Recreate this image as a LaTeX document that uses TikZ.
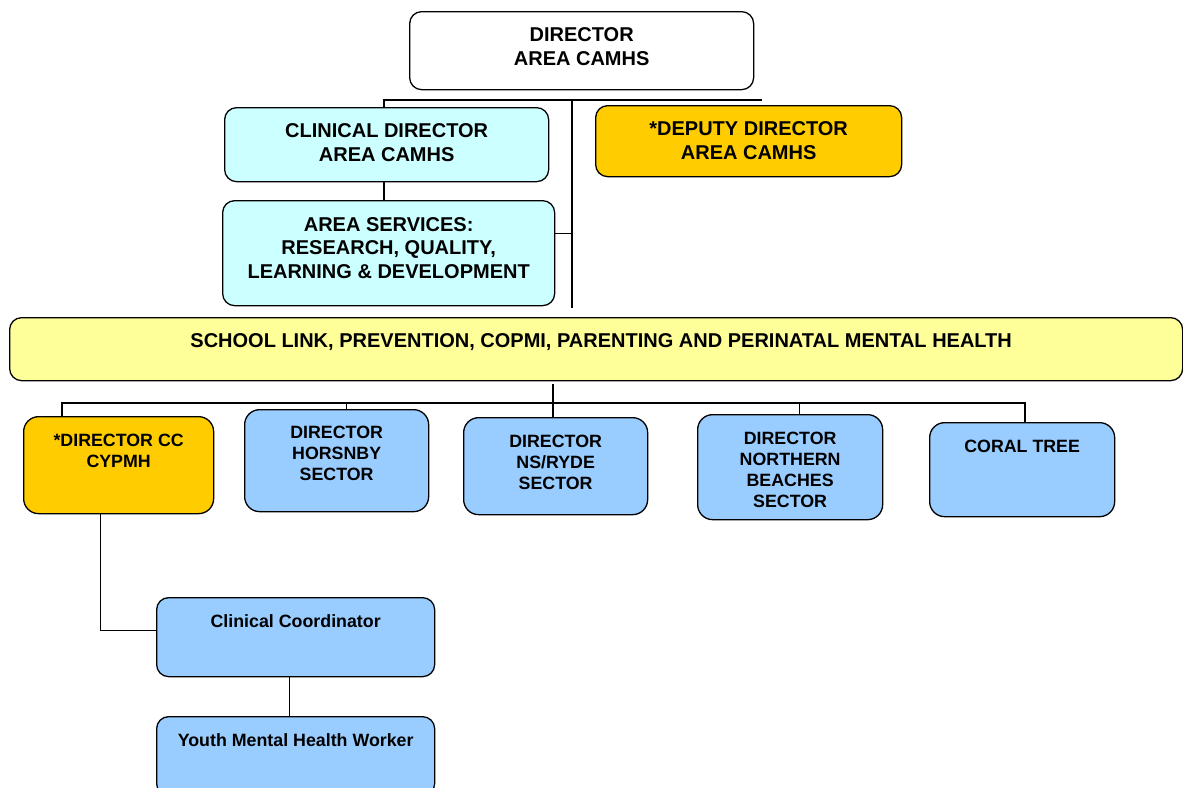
\documentclass[tikz,border=0pt]{standalone}
\usepackage{fontspec}
\setmainfont{Liberation Sans}
\usetikzlibrary{positioning}
\definecolor{paleCyan}{HTML}{CCFFFF}
\definecolor{gold}{HTML}{FFCC00}
\definecolor{paleYellow}{HTML}{FFFF99}
\definecolor{skyBlue}{HTML}{99CCFF}
\tikzset{
	box/.style = {draw, line width=1.3pt, rounded corners=12pt, anchor=north west, inner sep=0pt},
	big/.style = {font=\fontsize{20}{23.5}\selectfont\bfseries, align=center, inner sep=0pt},
	small/.style = {font=\fontsize{17.8}{21}\selectfont\bfseries, align=center, inner sep=0pt},
	conn/.style = {line width=1.2pt},
}
\begin{document}
\begin{tikzpicture}[x=1pt, y=-1pt]
	\useasboundingbox (0,0) rectangle (1183,787);
	% top of the chart
	\node[box, fill=white, minimum width=344pt, minimum height=78pt] (dir) at (409,11) {};
	\node[box, fill=paleCyan, minimum width=324pt, minimum height=74pt] (clin) at (224,107) {};
	\node[box, fill=paleCyan, minimum width=332pt, minimum height=105pt] (area) at (222,200) {};
	\node[box, fill=gold, minimum width=306pt, minimum height=71pt] (dep) at (595,105) {};
	\node[box, fill=paleYellow, minimum width=1173pt, minimum height=63pt] (school) at (9,317) {};
	\node[big, below=16.5pt of dir.north] {DIRECTOR\\ AREA CAMHS};
	\node[big, below=16.5pt of clin.north] {CLINICAL DIRECTOR\\ AREA CAMHS};
	\node[big, below=17pt of area.north] {AREA SERVICES:\\ RESEARCH, QUALITY,\\ LEARNING \& DEVELOPMENT};
	\node[big, below=16.5pt of dep.north] {*DEPUTY DIRECTOR\\ AREA CAMHS};
	\node[big, below=16.5pt of school.north, xshift=5pt] {SCHOOL LINK, PREVENTION, COPMI, PARENTING AND PERINATAL MENTAL HEALTH};
	% sectors
	\node[box, fill=gold, minimum width=190pt, minimum height=97pt, rounded corners=15pt] (cc) at (23,416) {};
	\node[box, fill=skyBlue, minimum width=184pt, minimum height=102pt, rounded corners=15pt] (hor) at (244,409) {};
	\node[box, fill=skyBlue, minimum width=184pt, minimum height=97pt, rounded corners=15pt] (ns) at (463,417) {};
	\node[box, fill=skyBlue, minimum width=185pt, minimum height=105pt, rounded corners=15pt] (nb) at (697,414) {};
	\node[box, fill=skyBlue, minimum width=185pt, minimum height=94pt, rounded corners=15pt] (coral) at (929,422) {};
	\node[small, below=17.5pt of cc.north] {*DIRECTOR CC\\ CYPMH};
	\node[small, below=17pt of hor.north] {DIRECTOR\\ HORSNBY\\ SECTOR};
	\node[small, below=17.5pt of ns.north] {DIRECTOR\\ NS/RYDE\\ SECTOR};
	\node[small, below=17.5pt of nb.north] {DIRECTOR\\ NORTHERN\\ BEACHES\\ SECTOR};
	\node[small, below=18pt of coral.north] {CORAL TREE};
	% youth team
	\node[box, fill=skyBlue, minimum width=278pt, minimum height=79pt] (coord) at (156,597) {};
	\node[box, fill=skyBlue, minimum width=278pt, minimum height=79pt] (yw) at (156,716) {};
	\node[small, below=17pt of coord.north] {Clinical Coordinator};
	\node[small, below=17pt of yw.north] {Youth Mental Health Worker};
	% lines
	\coordinate (topL) at (384,100);
	\coordinate (topR) at (762,100);
	\coordinate (spineT) at (572,100);
	\coordinate (spineB) at (572,308);
	\coordinate (hub) at (553,384);
	\coordinate (busL) at (62,403);
	\coordinate (busR) at (1025,403);
	\draw[conn] (clin.north -| topL) -- (topL) -- (topR);
	\draw[conn] (clin.south -| topL) -- (area.north -| topL);
	\draw[conn] (spineT) -- (spineB);
	\draw[conn] ([yshift=19.5pt]area.east) -- ([yshift=19.5pt]area.east -| spineT);
	\draw[conn] (hub) -- (hub |- ns.north);
	\draw[conn] (busL |- cc.north) -- (busL) -- (busR) -- (busR |- coral.north);
	\draw[conn] ([xshift=10pt]hor.north) -- ([xshift=10pt]hor.north |- busL);
	\draw[conn] ([xshift=9.5pt]nb.north) -- ([xshift=9.5pt]nb.north |- busL);
	\draw[conn] ([xshift=-18pt]cc.south) |- ([yshift=6.5pt]coord.west);
	\draw[conn] ([xshift=-6pt]coord.south) -- ([xshift=-6pt]yw.north);
\end{tikzpicture}
\end{document}
